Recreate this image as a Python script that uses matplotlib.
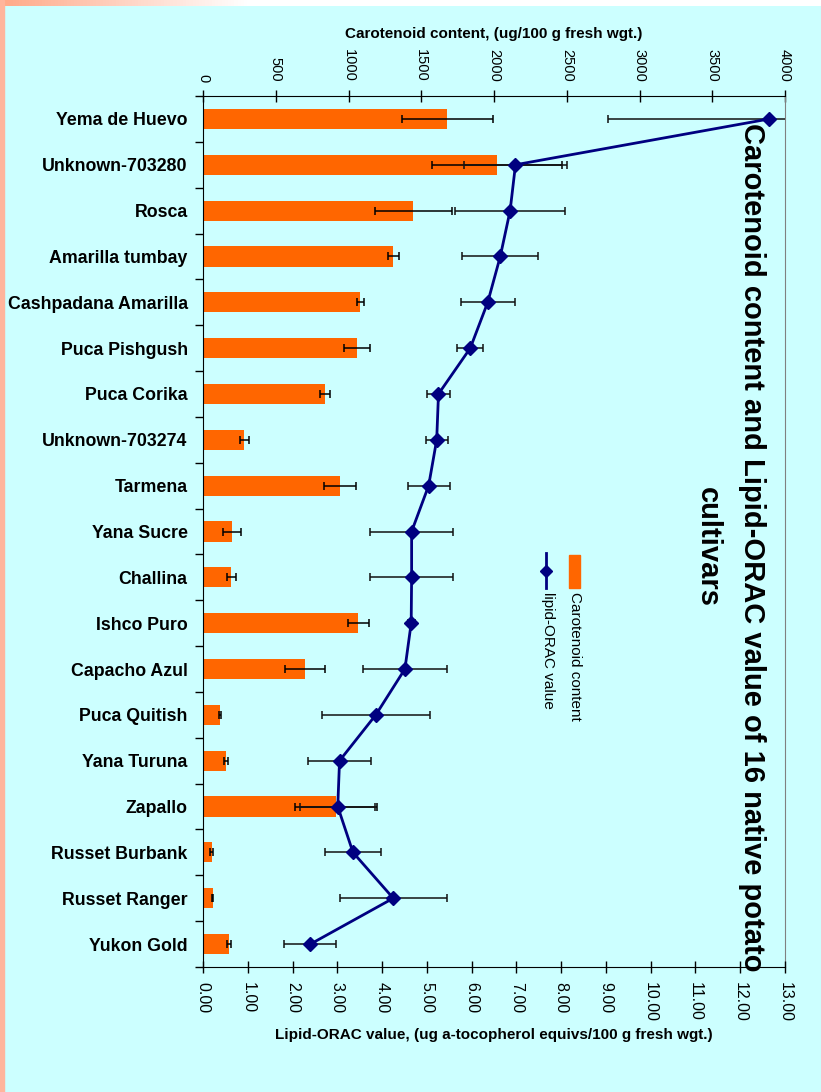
import matplotlib
matplotlib.use("Agg")
import matplotlib.pyplot as plt
import numpy as np
from matplotlib.lines import Line2D
from matplotlib.patches import Rectangle

# cultivars, top to bottom
cultivars = ["Yema de Huevo", "Unknown-703280", "Rosca", "Amarilla tumbay",
             "Cashpadana Amarilla", "Puca Pishgush", "Puca Corika",
             "Unknown-703274", "Tarmena", "Yana Sucre", "Challina",
             "Ishco Puro", "Capacho Azul", "Puca Quitish", "Yana Turuna",
             "Zapallo", "Russet Burbank", "Russet Ranger", "Yukon Gold"]

# ug/100 g fresh wgt
carotenoid = [1680, 2023, 1446, 1307, 1081, 1059, 839, 284, 942, 199,
              193, 1067, 702, 117, 158, 915, 60, 66, 180]
carotenoid_err = [310, 446, 267, 38, 25, 90, 34, 32, 111, 59,
                  31, 72, 137, 7, 17, 283, 12, 3, 13]

# ug a-tocopherol equivs/100 g fresh wgt
lipid_orac = [12.65, 6.98, 6.86, 6.64, 6.36, 5.97, 5.26, 5.22, 5.04, 4.66,
              4.66, 4.65, 4.51, 3.86, 3.05, 3.01, 3.35, 4.25, 2.40]
lipid_orac_err = [3.6, 1.15, 1.22, 0.85, 0.60, 0.29, 0.25, 0.25, 0.47, 0.92,
                  0.92, 0.08, 0.93, 1.20, 0.70, 0.84, 0.62, 1.20, 0.58]

carot_ticks = list(range(0, 4001, 500))
orac_ticks = list(range(0, 14))

BG = "#CCFFFF"
BAR = "#FF6600"
LINE = "#000080"
W, H = 821, 1092

plt.rcParams["font.family"] = ["Liberation Sans", "DejaVu Sans"]


def fx(px):
    return px / W


def fy(py):
    return 1 - py / H


fig = plt.figure(figsize=(W / 100, H / 100), dpi=100, facecolor=BG)

# salmon frame strips
top = fig.add_axes([0, fy(6), 1, 6 / H])
grad = np.ones((1, 256, 3))
t = np.clip(np.linspace(0, 1, 256) / 0.3, 0, 1)
grad[0, :, 0] = 1.0
grad[0, :, 1] = 0.66 + 0.34 * t
grad[0, :, 2] = 0.53 + 0.47 * t
top.imshow(grad, aspect="auto", extent=[0, 1, 0, 1])
top.axis("off")
fig.add_artist(Rectangle((0, 0), fx(3.5), 1, transform=fig.transFigure,
                         color="#FFB59C", zorder=5))

ax = fig.add_axes([fx(203), fy(967), fx(785 - 203), (967 - 96) / H])
ax.set_facecolor(BG)
ax2 = ax.twiny()
ypos = np.arange(len(cultivars))

# carotenoid bars on the top axis
ax.barh(ypos, carotenoid, height=0.44, color=BAR, zorder=2)
ax.errorbar(carotenoid, ypos, xerr=carotenoid_err, fmt="none", ecolor="black",
            elinewidth=1.1, capsize=3, capthick=1.1, zorder=3)
ax.set_xlim(0, 4000)
ax.set_ylim(len(cultivars) - 0.5, -0.5)

ax.xaxis.tick_top()
ax.set_xticks(carot_ticks)
ax.set_xticklabels([str(v) for v in carot_ticks], rotation=270, fontsize=10.5)
ax.tick_params(axis="x", direction="inout", length=8, width=1, pad=6)

ax.set_yticks(ypos)
ax.set_yticklabels(cultivars, fontsize=12.8, fontweight="bold")
ax.set_yticks(np.arange(-0.5, len(cultivars) + 0.5, 1), minor=True)
ax.tick_params(axis="y", which="major", length=0, pad=11)
ax.tick_params(axis="y", which="minor", direction="out", length=6, width=1)

ax.spines["right"].set_color("#808080")
for s in ["left", "top", "bottom"]:
    ax.spines[s].set_color("black")

# lipid-ORAC on the bottom axis
ax2.xaxis.tick_bottom()
ax2.set_xlim(0, 13)
ax2.set_xticks(orac_ticks)
ax2.set_xticklabels(["%.2f" % v for v in orac_ticks], rotation=270,
                    fontsize=11.5)
ax2.tick_params(axis="x", direction="inout", length=8, width=1, pad=7)
for s in ax2.spines.values():
    s.set_visible(False)

ax2.errorbar(lipid_orac, ypos, xerr=lipid_orac_err, fmt="none",
             ecolor="#111111", elinewidth=1.1, capsize=3, capthick=1.1)
ax2.plot(lipid_orac, ypos, color=LINE, lw=2, marker="D", markersize=7,
         mfc=LINE, mec=LINE)

# axis titles
fig.text(fx(494), fy(34), "Carotenoid content, (ug/100 g fresh wgt.)",
         ha="center", va="center", fontsize=11, fontweight="bold")
fig.text(fx(494), fy(1035),
         "Lipid-ORAC value, (ug a-tocopherol equivs/100 g fresh wgt.)",
         ha="center", va="center", fontsize=11, fontweight="bold")

# rotated chart title
fig.text(fx(730), fy(547),
         "Carotenoid content and Lipid-ORAC value of 16 native potato\ncultivars",
         rotation=270, ha="center", va="center", multialignment="center",
         fontsize=21, fontweight="bold", linespacing=1.7)

# rotated legend
fig.add_artist(Rectangle((fx(569), fy(588)), fx(11), 33 / H,
                         transform=fig.transFigure, color=BAR))
fig.add_artist(Line2D([fx(546), fx(546)], [fy(553), fy(588)],
                      transform=fig.transFigure, color=LINE, lw=2))
fig.add_artist(Line2D([fx(546)], [fy(571)], transform=fig.transFigure,
                      marker="D", markersize=6, color=LINE))
fig.text(fx(575), fy(592), "Carotenoid content", rotation=270,
         ha="center", va="top", fontsize=11)
fig.text(fx(548), fy(592), "lipid-ORAC value", rotation=270,
         ha="center", va="top", fontsize=11)

fig.savefig("out.png", dpi=100, facecolor=BG)
